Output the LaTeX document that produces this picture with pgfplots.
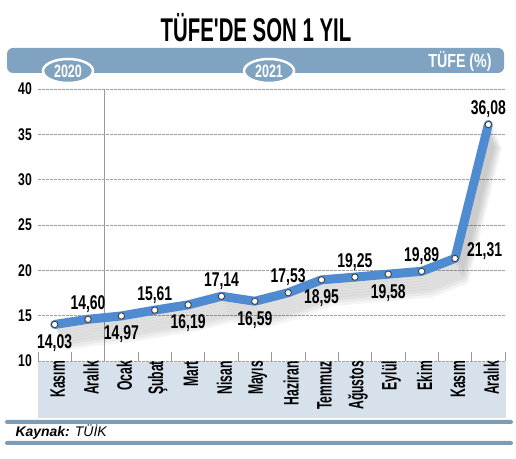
\documentclass[border=0pt]{standalone}
\usepackage{fontspec}
\setmainfont{Liberation Sans}
\newfontfamily\cond[FakeStretch=0.7]{Liberation Sans}
\newfontfamily\condy[FakeStretch=0.72]{Liberation Sans}
\newfontfamily\condh[FakeStretch=0.75]{Liberation Sans}
\newfontfamily\condt[FakeStretch=0.62]{Liberation Sans}
\newfontfamily\condn[FakeStretch=0.58]{Liberation Sans}
\usepackage{pgfplots}
\usepackage{pgfplotstable}
\pgfplotsset{compat=1.18}
\definecolor{headc}{HTML}{7FA3C0}
\definecolor{bandc}{HTML}{D7E1EB}
\definecolor{barc}{HTML}{7C9DB7}
\definecolor{linec}{HTML}{4E8BD1}

\pgfplotstableread{
x y
0 14.03
1 14.60
2 14.97
3 15.61
4 16.19
5 17.14
6 16.59
7 17.53
8 18.95
9 19.25
10 19.58
11 19.89
12 21.31
13 36.08
}\data
\pgfplotstableread{
x y
0 14.03
2 14.97
4 16.19
6 16.59
8 18.95
10 19.58
}\below
\pgfplotstableread{
x y
1 14.60
3 15.61
5 17.14
7 17.53
9 19.25
11 19.89
13 36.08
}\above
\pgfplotstableread{
x y
12 21.31
}\right

\begin{document}
\begin{tikzpicture}[x=1bp,y=1bp]
\useasboundingbox (-38,-98) rectangle (478,361);
\fill[bandc] (0,-57) rectangle (468,-1);
\begin{axis}[
  at={(0,0)}, anchor=south west,
  scale only axis, width=467bp, height=272bp,
  xmin=-0.5, xmax=13.5, ymin=10, ymax=40,
  clip=false,
  axis line style={draw=none},
  /pgf/number format/assume math mode=true,
  ytick={10,15,...,40},
  ymajorgrids,
  grid style={gray!75, line width=0.5bp, dash pattern=on 2.5bp off 1.5bp},
  y tick style={draw=none},
  yticklabel style={font=\condy\bfseries\fontsize{17}{17}\selectfont, inner sep=0pt, xshift=-6bp},
  xtick={0,...,13},
  xticklabels={Kasım,Aralık,Ocak,Şubat,Mart,Nisan,Mayıs,Haziran,Temmuz,Ağustos,Eylül,Ekim,Kasım,Aralık},
  major x tick style={draw=none},
  minor xtick={-0.5,0.5,...,13.5},
  minor tick length=9bp,
  minor x tick style={gray!80, line width=0.6bp},
  tick align=inside,
  xtick pos=lower, ytick pos=left,
  xticklabel style={rotate=90, anchor=east, inner sep=0pt, yshift=-3bp,
     font=\condn\bfseries\fontsize{21}{21}\selectfont},
  every node near coord/.append style={font=\cond\bfseries\fontsize{20}{20}\selectfont, inner sep=0pt},
  nodes near coords={\pgfmathprintnumber[fixed, fixed zerofill, precision=2, use comma]{\pgfplotspointmeta}},
]
\draw[gray!80, line width=0.7bp] (axis cs:1.5,10) -- (axis cs:1.5,40);
% shadow
\pgfplotsinvokeforeach{1,...,8}{
  \addplot[no marks, nodes near coords={}, black, opacity=0.045, line width=9bp, line join=round]
    table[x expr=\thisrow{x}+0.035*#1, y expr=\thisrow{y}-0.3*#1] {\data};
}
\addplot[no marks, nodes near coords={}, linec, line width=9bp, line join=round, line cap=round] table {\data};
\addplot[only marks, nodes near coords={}, mark=*, mark size=3.2bp, mark options={fill=white, draw=black!75, line width=0.9bp}] table {\data};
\addplot[only marks, mark=none, point meta=y, every node near coord/.append style={anchor=base, yshift=-24bp}] table {\below};
\addplot[only marks, mark=none, point meta=y, every node near coord/.append style={anchor=base, yshift=10bp}] table {\above};
\addplot[only marks, mark=none, point meta=y, every node near coord/.append style={anchor=base west, xshift=12bp, yshift=2bp}] table {\right};
\end{axis}
\fill[headc, rounded corners=6bp] (-31,288) rectangle (466,313);
\node[anchor=base, font=\condt\bfseries\fontsize{33}{33}\selectfont] at (218,319) {TÜFE'DE SON 1 YIL};
\node[anchor=base, white, font=\condh\bfseries\fontsize{19}{19}\selectfont] at (422,293) {TÜFE (\%)};
\draw[white, line width=2.5bp, fill=headc] (30,290) ellipse [x radius=25, y radius=12];
\node[anchor=base, white, font=\cond\bfseries\fontsize{18}{18}\selectfont] at (30,283.5) {2020};
\draw[white, line width=2.5bp, fill=headc] (231,290) ellipse [x radius=25, y radius=12];
\node[anchor=base, white, font=\cond\bfseries\fontsize{18}{18}\selectfont] at (231,283.5) {2021};
\fill[barc, rounded corners=2bp] (-33,-63) rectangle (475,-59);
\fill[barc, rounded corners=2bp] (-33,-84) rectangle (475,-80);
\node[anchor=base west, font=\fontsize{14}{14}\selectfont\itshape] at (-26,-76) {\textbf{Kaynak:} TÜİK};
\end{tikzpicture}
\end{document}
